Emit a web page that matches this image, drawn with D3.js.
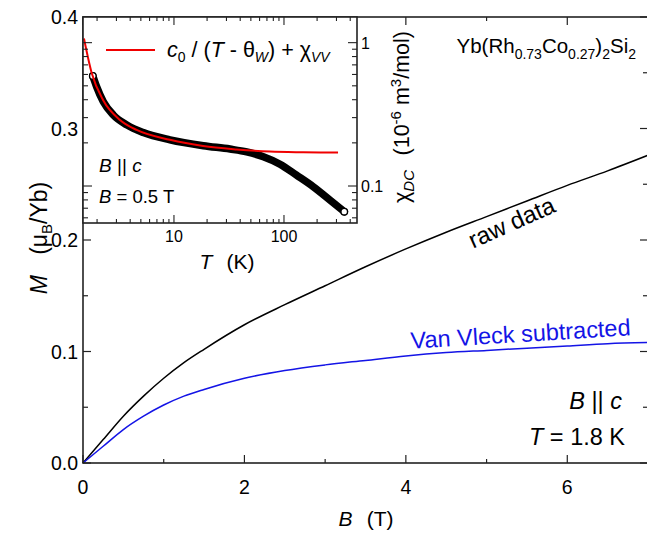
<!DOCTYPE html>
<html><head><meta charset="utf-8">
<script src="https://cdn.jsdelivr.net/npm/d3@7"></script>
<style>body{margin:0;background:#fff}svg{display:block;font-family:"Liberation Sans",Arial,sans-serif}</style>
</head><body><svg id="c" width="647" height="533"></svg>
<script>
// Main panel data: magnetization M (muB/Yb) vs field B (T)
const fieldB = [0,0.25,0.5,0.75,1,1.25,1.5,2,2.5,3,3.5,4,4.5,5,5.5,6,6.5,7];
const rawM   = [0,0.021,0.042,0.060,0.076,0.090,0.102,0.124,0.142,0.159,0.176,0.192,0.207,0.221,0.235,0.249,0.262,0.276];
const vvSubM = [0,0.015,0.030,0.042,0.052,0.060,0.066,0.076,0.083,0.088,0.092,0.096,0.099,0.101,0.103,0.105,0.107,0.108];
const xTicks = [0,1,2,3,4,5,6,7];
const xLabels = [0,2,4,6];
const yTicks = [0,0.05,0.1,0.15,0.2,0.25,0.3,0.35,0.4];
const yLabels = [0,0.1,0.2,0.3,0.4];
// Inset data: chi_DC vs T (log-log)
const dataT   = [1.83,1.98,2.28,2.81,3.72,5.26,9.2,18.5,32.3,45.8,64.9,92,130,184.5,262,353];
const dataChi = [0.586,0.493,0.387,0.313,0.267,0.236,0.210,0.191,0.181,0.173,0.160,0.142,0.119,0.0989,0.0798,0.0662];
const fitT   = [1.52,1.79,2.28,3.23,4.58,9.2,18.4,37.2,74.6,149,310];
const fitChi = [1.07,0.611,0.395,0.289,0.246,0.210,0.190,0.180,0.174,0.172,0.171];
const insetTLabels = [10,100];
const insetChiLabels = [1,0.1];

const svg = d3.select("#c");
svg.append("rect").attr("width",647).attr("height",533).attr("fill","#fff");
const x = d3.scaleLinear().domain([0,7]).range([83,648]);
const y = d3.scaleLinear().domain([0,0.4]).range([463,17]);
const BLUE = "#1414e6", RED = "#f00000";

// main curves
const line = d3.line().x(d=>x(d[0])).y(d=>y(d[1])).curve(d3.curveMonotoneX);
svg.append("path").datum(fieldB.map((b,i)=>[b,rawM[i]])).attr("d",line)
  .attr("fill","none").attr("stroke","#000").attr("stroke-width",1.5);
svg.append("path").datum(fieldB.map((b,i)=>[b,vvSubM[i]])).attr("d",line)
  .attr("fill","none").attr("stroke",BLUE).attr("stroke-width",1.5);

// main frame & ticks
const ax = "#222";
svg.append("rect").attr("x",83).attr("y",17).attr("width",565).attr("height",446)
  .attr("fill","none").attr("stroke",ax).attr("stroke-width",1.6);
xTicks.forEach(t=>{
  const L = t%2===0?8:4;
  svg.append("line").attr("x1",x(t)).attr("x2",x(t)).attr("y1",463).attr("y2",463-L).attr("stroke",ax).attr("stroke-width",1.2);
  svg.append("line").attr("x1",x(t)).attr("x2",x(t)).attr("y1",17).attr("y2",17+L).attr("stroke",ax).attr("stroke-width",1.2);
});
yTicks.forEach((t,i)=>{
  const L = i%2===0?8:5;
  svg.append("line").attr("x1",83).attr("x2",83+L).attr("y1",y(t)).attr("y2",y(t)).attr("stroke",ax).attr("stroke-width",1.2);
  svg.append("line").attr("x1",648).attr("x2",648-L).attr("y1",y(t)).attr("y2",y(t)).attr("stroke",ax).attr("stroke-width",1.2);
});
xLabels.forEach(t=>svg.append("text").attr("x",x(t)).attr("y",494).attr("text-anchor","middle")
  .attr("font-size",19.5).text(t));
yLabels.forEach(t=>svg.append("text").attr("x",78).attr("y",y(t)+7).attr("text-anchor","end")
  .attr("font-size",19.5).text(d3.format(".1f")(t)));

// axis titles
const xt = svg.append("text").attr("x",366).attr("y",526).attr("text-anchor","middle").attr("font-size",21);
xt.append("tspan").attr("font-style","italic").text("B");
xt.append("tspan").text("\u2009\u2009 (T)");
const yt = svg.append("text").attr("transform","translate(47,238) rotate(-90)").attr("text-anchor","middle").attr("font-size",23);
yt.append("tspan").attr("font-style","italic").text("M");
yt.append("tspan").text("\u2009\u2009\u2009 (\u03bc");
yt.append("tspan").attr("font-size",15).attr("dy",5).text("B");
yt.append("tspan").attr("dy",-5).text("/Yb)");

// annotations
const tt = svg.append("text").attr("x",636).attr("y",53).attr("text-anchor","end").attr("font-size",20.5);
tt.append("tspan").text("Yb(Rh");
tt.append("tspan").attr("font-size",14).attr("dy",6).text("0.73");
tt.append("tspan").attr("dy",-6).text("Co");
tt.append("tspan").attr("font-size",14).attr("dy",6).text("0.27");
tt.append("tspan").attr("dy",-6).text(")");
tt.append("tspan").attr("font-size",14).attr("dy",6).text("2");
tt.append("tspan").attr("dy",-6).text("Si");
tt.append("tspan").attr("font-size",14).attr("dy",6).text("2");

svg.append("text").attr("transform","translate(515,230) rotate(-24)").attr("text-anchor","middle")
  .attr("font-size",24).text("raw data");
svg.append("text").attr("transform","translate(521,342) rotate(-3.5)").attr("text-anchor","middle")
  .attr("font-size",23.5).attr("fill",BLUE).text("Van Vleck subtracted");
const bc = svg.append("text").attr("x",622).attr("y",409).attr("text-anchor","end").attr("font-size",23.5);
bc.append("tspan").attr("font-style","italic").text("B");
bc.append("tspan").text(" || ");
bc.append("tspan").attr("font-style","italic").text("c");
const tk = svg.append("text").attr("x",625).attr("y",445).attr("text-anchor","end").attr("font-size",23.5);
tk.append("tspan").attr("font-style","italic").text("T");
tk.append("tspan").text(" = 1.8 K");

// ---------------- inset ----------------
const ix = d3.scaleLog().domain([1.49,461]).range([83,357]);
const iy = d3.scaleLog().domain([0.0552,1.51]).range([223,17]);
svg.append("rect").attr("x",83).attr("y",17).attr("width",274).attr("height",206).attr("fill","#fff");
const g = svg.append("g");
const cp = svg.append("clipPath").attr("id","ic");
cp.append("rect").attr("x",83).attr("y",17).attr("width",274).attr("height",206);
const gc = g.append("g").attr("clip-path","url(#ic)");
const iline = d3.line().x(d=>ix(d[0])).y(d=>iy(d[1])).curve(d3.curveMonotoneX);
const dpts = dataT.map((t,i)=>[t,dataChi[i]]);
gc.append("path").datum(dpts).attr("d",iline).attr("fill","none").attr("stroke","#000")
  .attr("stroke-width",7.5).attr("stroke-linecap","round");
gc.selectAll("circle.e").data([dpts[0],dpts[dpts.length-1]]).enter().append("circle")
  .attr("cx",d=>ix(d[0])).attr("cy",d=>iy(d[1])).attr("r",3.3).attr("fill","#fff").attr("stroke","#000").attr("stroke-width",1.4);
gc.append("path").datum(fitT.map((t,i)=>[t,fitChi[i]])).attr("d",iline).attr("fill","none")
  .attr("stroke",RED).attr("stroke-width",2);

g.append("rect").attr("x",83).attr("y",17).attr("width",274).attr("height",206)
  .attr("fill","none").attr("stroke",ax).attr("stroke-width",1.6);
// inset T ticks
const tTicks = [];
for (let d=1; d<=100; d*=10) for (let k=1;k<10;k++){ const v=k*d; if (v>=1.49 && v<=461) tTicks.push(v); }
tTicks.forEach(v=>{
  const major = (v===10||v===100);
  const L = major?8:4;
  g.append("line").attr("x1",ix(v)).attr("x2",ix(v)).attr("y1",223).attr("y2",223-L).attr("stroke",ax).attr("stroke-width",1.1);
  g.append("line").attr("x1",ix(v)).attr("x2",ix(v)).attr("y1",17).attr("y2",17+L).attr("stroke",ax).attr("stroke-width",1.1);
});
const cTicks = [];
[0.01,0.1,1].forEach(d=>{ for (let k=1;k<10;k++){ const v=k*d; if (v>=0.0552 && v<=1.51) cTicks.push(v);} });
cTicks.forEach(v=>{
  const major = Math.abs(v-1)<1e-9 || Math.abs(v-0.1)<1e-9;
  const L = major?9:5;
  g.append("line").attr("x1",357).attr("x2",357-L).attr("y1",iy(v)).attr("y2",iy(v)).attr("stroke",ax).attr("stroke-width",1.1);
  g.append("line").attr("x1",83).attr("x2",83+L).attr("y1",iy(v)).attr("y2",iy(v)).attr("stroke",ax).attr("stroke-width",1.1);
});
insetTLabels.forEach(v=>g.append("text").attr("x",ix(v)).attr("y",242).attr("text-anchor","middle").attr("font-size",16).text(v));
insetChiLabels.forEach(v=>g.append("text").attr("x",361).attr("y",iy(v)+6).attr("font-size",16).text(v));
const itx = g.append("text").attr("x",227).attr("y",269).attr("text-anchor","middle").attr("font-size",21);
itx.append("tspan").attr("font-style","italic").text("T");
itx.append("tspan").text("\u2009\u2009 (K)");
const ity = g.append("text").attr("transform","translate(409,203) rotate(-90)").attr("font-size",21.5);
ity.append("tspan").text("\u03c7");
ity.append("tspan").attr("font-size",15).attr("font-style","italic").attr("dy",5).text("DC");
ity.append("tspan").attr("dy",-5).text("\u2009\u2009 (10");
ity.append("tspan").attr("font-size",15).attr("dy",-8).text("-6");
ity.append("tspan").attr("dy",8).text(" m");
ity.append("tspan").attr("font-size",15).attr("dy",-8).text("3");
ity.append("tspan").attr("dy",8).text("/mol)");
// legend
g.append("line").attr("x1",106).attr("x2",155).attr("y1",50).attr("y2",50).attr("stroke",RED).attr("stroke-width",2);
const lg = g.append("text").attr("x",167).attr("y",57).attr("font-size",21.5);
lg.append("tspan").attr("font-style","italic").text("c");
lg.append("tspan").attr("font-size",14).attr("dy",5).text("0");
lg.append("tspan").attr("dy",-5).text(" / (");
lg.append("tspan").attr("font-style","italic").text("T");
lg.append("tspan").text(" - \u03b8");
lg.append("tspan").attr("font-size",14).attr("font-style","italic").attr("dy",5).text("W");
lg.append("tspan").attr("dy",-5).text(") + \u03c7");
lg.append("tspan").attr("font-size",14).attr("font-style","italic").attr("dy",5).text("VV");
const ib = g.append("text").attr("x",99).attr("y",172).attr("font-size",19);
ib.append("tspan").attr("font-style","italic").text("B");
ib.append("tspan").text(" || ");
ib.append("tspan").attr("font-style","italic").text("c");
const ib2 = g.append("text").attr("x",99).attr("y",203).attr("font-size",18.5);
ib2.append("tspan").attr("font-style","italic").text("B");
ib2.append("tspan").text(" = 0.5 T");
</script></body></html>
